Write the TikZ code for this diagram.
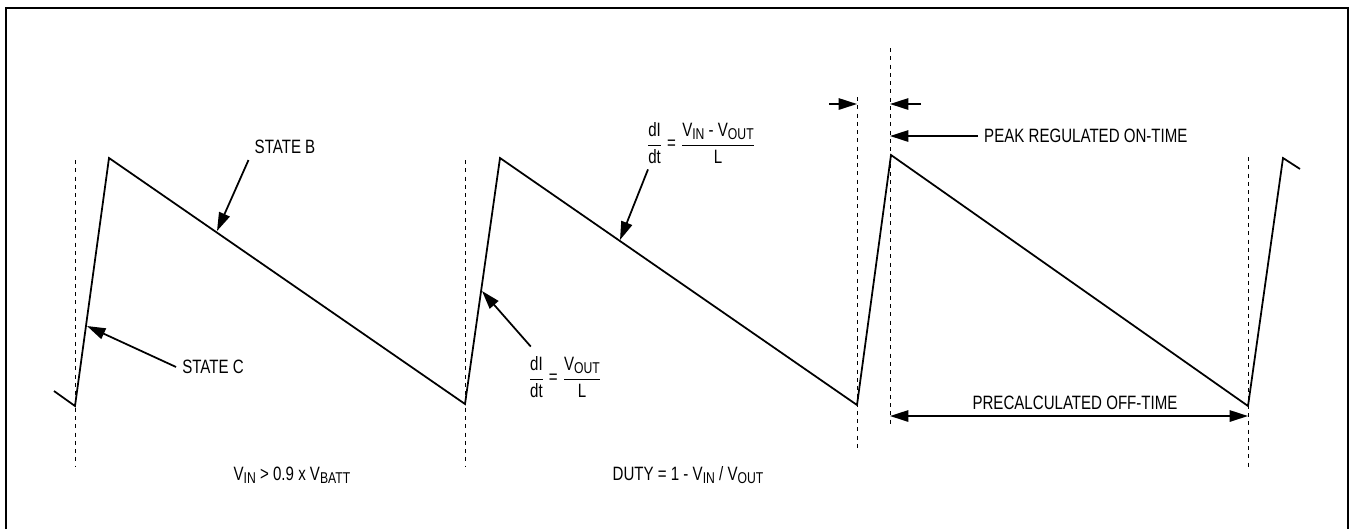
\documentclass[tikz,border=0pt]{standalone}
\usepackage{amsmath}
\usepackage{fontspec}
\setmainfont{Liberation Sans}[FakeStretch=0.78]
\usetikzlibrary{arrows.meta}
\newcommand{\lo}[1]{\raisebox{-0.28ex}{\fontsize{8.9}{10}\selectfont #1}}

\begin{document}
\begin{tikzpicture}[x=0.02cm,y=-0.02cm,
  wave/.style={line width=1pt,line join=miter},
  guide/.style={line width=0.5pt,dash pattern=on 2.3pt off 2.4pt},
  arr/.style={line width=1pt,-{Triangle[length=10.5pt,width=6.5pt]}},
  dblarr/.style={line width=1pt,{Triangle[length=10.5pt,width=6.5pt]}-{Triangle[length=10.5pt,width=6.5pt]}},
  lbl/.style={font=\fontsize{11}{13}\selectfont}]
  \useasboundingbox (0,0) rectangle (1351,529);
  \draw[line width=1.2pt] (6,529) -- (6,8) -- (1348,8) -- (1348,529);

  % waveform corners
  \coordinate (w0) at (54,391);
  \coordinate (v1) at (75,406);
  \coordinate (p1) at (109,158);
  \coordinate (v2) at (465,404);
  \coordinate (p2) at (500,158);
  \coordinate (v3) at (857,405);
  \coordinate (p3) at (891,155);
  \coordinate (v4) at (1248,406);
  \coordinate (p4) at (1283,158);
  \coordinate (w5) at (1300,169);
  \draw[wave] (w0) -- (v1) -- (p1) -- (v2) -- (p2) -- (v3) -- (p3) -- (v4) -- (p4) -- (w5);

  % guides
  \foreach \gx/\gt/\gb in {75/160/467,465/160/467,857/97/448,890/48/425,1248/157/467}
    \draw[guide] (\gx,\gt) -- (\gx,\gb);

  \coordinate (tipB) at (217,231);
  \coordinate (tipC) at (87,326);
  \coordinate (tipOff) at (620,240);
  \coordinate (tipOn) at (482,291);
  \coordinate (peak) at (890,136);
  \coordinate (onL) at (829,104);
  \coordinate (onLe) at (857,104);
  \coordinate (onR) at (921,104);
  \coordinate (onRe) at (890,104);
  \coordinate (offL) at (890,416);
  \coordinate (offR) at (1248,416);

  \node[lbl] (stateB) at (285,147) {STATE B};
  \node[lbl] (stateC) at (213,367) {STATE C};
  \node[lbl] (slopeOff) at (701,143) {$\dfrac{\text{dI}}{\text{dt}}\text{ = }\dfrac{\text{V\lo{IN} - V\lo{OUT}}}{\text{L}}$};
  \node[lbl] (slopeOn) at (565,377) {$\dfrac{\text{dI}}{\text{dt}}\text{ = }\dfrac{\text{V\lo{OUT}}}{\text{L}}$};
  \node[lbl,anchor=west] (peakOn) at (978,136) {PEAK REGULATED ON-TIME};
  \node[lbl] (offTime) at (1075,403) {PRECALCULATED OFF-TIME};
  \node[lbl] (condA) at (292,475) {V\lo{IN} > 0.9 x V\lo{BATT}};
  \node[lbl] (condB) at (688,475) {DUTY = 1 - V\lo{IN} / V\lo{OUT}};

  \draw[arr] (stateB.south west) -- (tipB);
  \draw[arr] (stateC.west) -- (tipC);
  \draw[arr] ([shift={(8,0)}]slopeOff.south west) -- (tipOff);
  \draw[arr] ([shift={(9,-4)}]slopeOn.north west) -- (tipOn);
  \draw[arr] (peakOn.west) -- (peak);
  \draw[arr] (onL) -- (onLe);
  \draw[arr] (onR) -- (onRe);
  \draw[dblarr] (offL) -- (offR);
\end{tikzpicture}
\end{document}
